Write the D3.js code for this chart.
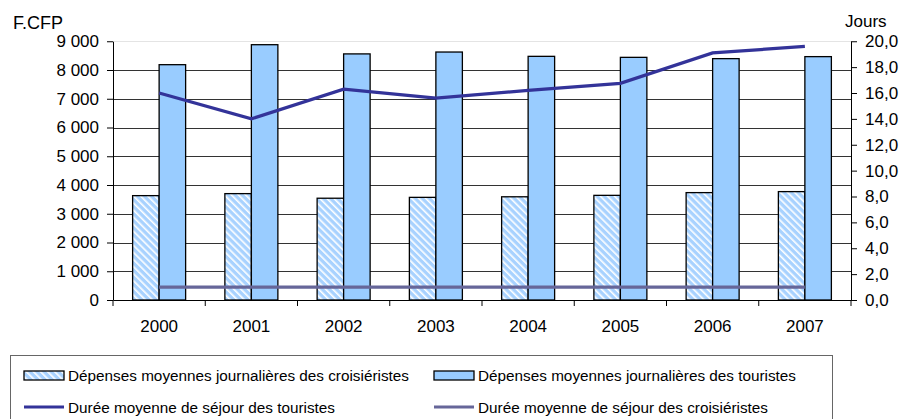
<!DOCTYPE html>
<html>
<head>
<meta charset="utf-8">
<script src="https://cdn.jsdelivr.net/npm/d3@7"></script>
<style>
  body { margin: 0; background: #fff; }
  svg text { font-family: "Liberation Sans", Arial, sans-serif; fill: #000; }
</style>
</head>
<body>
<svg width="907" height="419"></svg>
<script>
  // values
  var years = ['2000', '2001', '2002', '2003', '2004', '2005', '2006', '2007'];
  var depCroisieristes = [3630, 3700, 3540, 3570, 3590, 3640, 3735, 3770];
  var depTouristes = [8185, 8880, 8560, 8625, 8475, 8440, 8395, 8465];
  var dureeTouristes = [16.0, 14.0, 16.3, 15.6, 16.2, 16.75, 19.1, 19.6];
  var dureeCroisieristes = [1.0, 1.0, 1.0, 1.0, 1.0, 1.0, 1.0, 1.0];
  var leftTicks = [0, 1000, 2000, 3000, 4000, 5000, 6000, 7000, 8000, 9000];
  var rightTicks = [0, 2, 4, 6, 8, 10, 12, 14, 16, 18, 20];

(function () {
  var svg = d3.select('svg');
  var pLeft = 113, pRight = 851, pTop = 41.25, pBottom = 300;

  var x = d3.scaleBand().domain(years).range([pLeft, pRight]);
  var bw = x.bandwidth();
  var barW = 26.5;
  var x1 = d3.scaleBand().domain(['c', 't']).range([bw / 2 - barW, bw / 2 + barW]);
  var y = d3.scaleLinear().domain([0, 9000]).range([pBottom, pTop]);
  var y2 = d3.scaleLinear().domain([0, 20]).range([pBottom, pTop]);

  // hatch pattern
  var defs = svg.append('defs');
  var pat = defs.append('pattern')
    .attr('id', 'hatch')
    .attr('patternUnits', 'userSpaceOnUse')
    .attr('width', 5).attr('height', 5)
    .attr('patternTransform', 'rotate(-45)');
  pat.append('rect').attr('width', 5).attr('height', 5).attr('fill', '#a8d2ff');
  pat.append('rect').attr('x', 0).attr('width', 1.6).attr('height', 5).attr('fill', '#ffffff');

  // gridlines
  svg.append('g').selectAll('line').data(leftTicks.filter(function (d) { return d > 0; }))
    .enter().append('line')
      .attr('x1', pLeft).attr('x2', pRight)
      .attr('y1', function (d) { return Math.round(y(d)) + 0.5; })
      .attr('y2', function (d) { return Math.round(y(d)) + 0.5; })
      .attr('stroke', function (d) { return d == 9000 ? '#e4e4e4' : '#333'; })
      .attr('stroke-width', 1);

  var fmt = function (d) { return d3.format(',')(d).replace(/,/g, ' '); };

  // bars
  var g = svg.append('g');
  years.forEach(function (yr, i) {
    g.append('rect')
      .attr('x', x(yr) + x1('c')).attr('width', x1.bandwidth())
      .attr('y', y(depCroisieristes[i])).attr('height', pBottom - y(depCroisieristes[i]))
      .attr('fill', 'url(#hatch)').attr('stroke', '#000').attr('stroke-width', 1.3);
    g.append('rect')
      .attr('x', x(yr) + x1('t')).attr('width', x1.bandwidth())
      .attr('y', y(depTouristes[i])).attr('height', pBottom - y(depTouristes[i]))
      .attr('fill', '#99ccff').attr('stroke', '#000').attr('stroke-width', 1.3);
  });

  // lines
  var line = d3.line()
    .x(function (d, i) { return x(years[i]) + bw / 2; })
    .y(function (d) { return y2(d); });
  svg.append('path').datum(dureeCroisieristes)
    .attr('d', line).attr('fill', 'none').attr('stroke', '#666699').attr('stroke-width', 3.2);
  svg.append('path').datum(dureeTouristes)
    .attr('d', line).attr('fill', 'none').attr('stroke', '#333399').attr('stroke-width', 3.2);

  // axes
  var axL = svg.append('g').attr('transform', 'translate(' + pLeft + ',0)')
    .call(d3.axisLeft(y).tickValues(leftTicks).tickFormat(fmt).tickSize(6).tickSizeOuter(0).tickPadding(8));
  var axR = svg.append('g').attr('transform', 'translate(' + pRight + ',0)')
    .call(d3.axisRight(y2).tickValues(rightTicks)
      .tickFormat(function (d) { return d.toFixed(1).replace('.', ','); })
      .tickSize(6).tickSizeOuter(0).tickPadding(8));
  var axB = svg.append('g').attr('transform', 'translate(0,' + pBottom + ')')
    .call(d3.axisBottom(x).tickSize(0).tickSizeOuter(0).tickPadding(20));
  axB.selectAll('.tick text').attr('dy', '0.71em');
  // category boundary ticks
  axB.selectAll('line.sep').data(years.map(function (d) { return x(d); }).concat([pRight]))
    .enter().append('line').attr('class', 'sep')
      .attr('x1', function (d) { return d; }).attr('x2', function (d) { return d; })
      .attr('y1', 0).attr('y2', 6).attr('stroke', '#000');

  [axL, axR, axB].forEach(function (a) {
    a.selectAll('path').attr('stroke', '#000');
    a.selectAll('.tick line').attr('stroke', '#000');
    a.selectAll('text').style('font-family', '"Liberation Sans", Arial, sans-serif')
      .style('font-size', '17px').attr('fill', '#000');
  });

  svg.append('text').attr('x', 13).attr('y', 29).style('font-size', '18px').text('F.CFP');
  svg.append('text').attr('x', 845).attr('y', 27).style('font-size', '17px').text('Jours');

  // legend
  var leg = svg.append('g');
  leg.append('rect').attr('x', 10.5).attr('y', 355.5).attr('width', 822).attr('height', 80)
    .attr('fill', '#fff').attr('stroke', '#666');
  var legItems = [
    { label: 'Dépenses moyennes journalières des croisiéristes', type: 'bar', fill: 'url(#hatch)', x: 24, y: 381 },
    { label: 'Dépenses moyennes journalières des touristes', type: 'bar', fill: '#99ccff', x: 434, y: 381 },
    { label: 'Durée moyenne de séjour des touristes', type: 'line', color: '#333399', x: 24, y: 413 },
    { label: 'Durée moyenne de séjour des croisiéristes', type: 'line', color: '#666699', x: 434, y: 413 }
  ];
  legItems.forEach(function (it) {
    if (it.type == 'bar') {
      leg.append('rect').attr('x', it.x).attr('y', it.y - 10).attr('width', 40).attr('height', 9)
        .attr('fill', it.fill).attr('stroke', '#000').attr('stroke-width', 1.3);
    } else {
      leg.append('line').attr('x1', it.x).attr('x2', it.x + 40)
        .attr('y1', it.y - 6).attr('y2', it.y - 6)
        .attr('stroke', it.color).attr('stroke-width', 3.2);
    }
    leg.append('text').attr('x', it.x + 44).attr('y', it.y).style('font-size', '15.3px').text(it.label);
  });
})();
</script>
</body>
</html>
